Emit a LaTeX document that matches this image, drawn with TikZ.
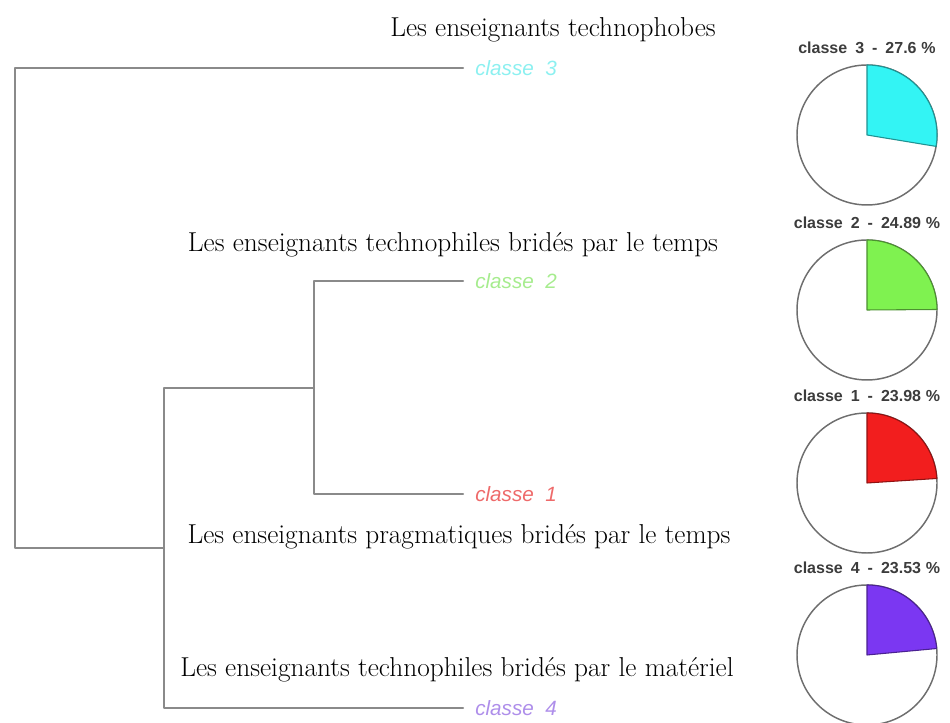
\documentclass[tikz,border=0pt]{standalone}
\usepackage{fontspec}
\setsansfont{Liberation Sans}
\usetikzlibrary{positioning}

\definecolor{treegray}{HTML}{8A8A8A}
\definecolor{piegray}{HTML}{6E6E6E}
\definecolor{labgray}{HTML}{3C3C3C}
\definecolor{cyanfill}{HTML}{33F4F4}
\definecolor{greenfill}{HTML}{7FF250}
\definecolor{redfill}{HTML}{F21E1E}
\definecolor{purplefill}{HTML}{7B37F2}
\definecolor{cyanlab}{HTML}{8CF0F0}
\definecolor{greenlab}{HTML}{A6EC8E}
\definecolor{redlab}{HTML}{EE6A6A}
\definecolor{purplelab}{HTML}{AE8EEA}

\tikzset{
  branch/.style={draw=treegray, line width=1.6pt},
  leaflabel/.style={anchor=west, inner sep=0pt, font=\sffamily\itshape\fontsize{15.5}{18}\selectfont},
  groupname/.style={inner sep=0pt, font=\fontsize{20.5}{24}\selectfont},
  pielabel/.style={inner sep=0pt, text=labgray, font=\sffamily\bfseries\fontsize{12}{14}\selectfont}
}

\begin{document}
\begin{tikzpicture}[x=0.75pt, y=0.75pt, line cap=round, line join=round]

  \useasboundingbox (0,0) rectangle (950,723);

  % Leaf ends and merge points of the dendrogram
  \coordinate (L3) at (463,655);
  \coordinate (L2) at (463,442);
  \coordinate (L1) at (463,229);
  \coordinate (L4) at (463,15);
  \coordinate (J12) at (314,335);
  \coordinate (J124) at (164,175);
  \coordinate (R) at (15,416);

  % Branches
  \draw[branch] (J12) |- (L2);
  \draw[branch] (J12) |- (L1);
  \draw[branch] (J124) |- (J12);
  \draw[branch] (J124) |- (L4);
  \draw[branch] (R) |- (L3);
  \draw[branch] (R) |- (J124);

  % Leaf labels
  \node[leaflabel, text=cyanlab, right=9pt of L3] (c3) {classe\ \ 3};
  \node[leaflabel, text=greenlab, right=9pt of L2] (c2) {classe\ \ 2};
  \node[leaflabel, text=redlab, right=9pt of L1] (c1) {classe\ \ 1};
  \node[leaflabel, text=purplelab, right=9pt of L4] (c4) {classe\ \ 4};

  % Group names
  \node[groupname] (g3) at (553,693) {Les enseignants technophobes};
  \node[groupname] (g2) at (453,478) {Les enseignants technophiles bridés par le temps};
  \node[groupname] (g1) at (459,186) {Les enseignants pragmatiques bridés par le temps};
  \node[groupname] (g4) at (457,53) {Les enseignants technophiles bridés par le matériel};

  % Pie charts
  \foreach \cy/\num/\pct/\ang/\col in {588/3/27.6/-9.4/cyanfill,
                                       413/2/24.89/0.4/greenfill,
                                       240/1/23.98/3.7/redfill,
                                       68/4/23.53/5.3/purplefill} {
    \coordinate (P\num) at (867,\cy);
    \draw[piegray, line width=1.1pt, fill=white] (P\num) circle[radius=52.5pt];
    \filldraw[fill=\col, draw=\col!60!black, line width=0.8pt]
      (P\num) -- ++(0,52.5pt) arc[start angle=90, end angle=\ang, radius=52.5pt] -- cycle;
    \node[pielabel, above=8pt of P\num, yshift=52.5pt] (T\num) {classe\hspace{0.5em}\num\hspace{0.5em}-\hspace{0.5em}\pct\hspace{0.3em}\%};
  }

\end{tikzpicture}
\end{document}
